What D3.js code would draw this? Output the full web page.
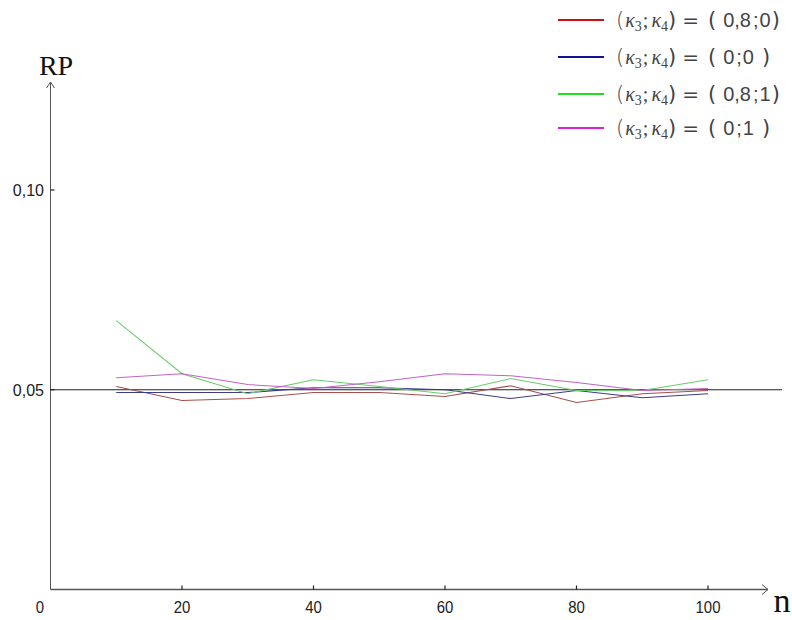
<!DOCTYPE html>
<html>
<head>
<meta charset="utf-8">
<script src="https://cdn.jsdelivr.net/npm/d3@7"></script>
<style>
  body { margin: 0; background: #fff; }
  svg text { font-family: "Liberation Sans", Arial, sans-serif; }
</style>
</head>
<body>
<div id="chart"></div>
<script>
const nValues = [10, 20, 30, 40, 50, 60, 70, 80, 90, 100];
const rp_08_0 = [0.0508, 0.0473, 0.0478, 0.0493, 0.0493, 0.0483, 0.0510, 0.0468, 0.0490, 0.0498];
const rp_0_0  = [0.0493, 0.0493, 0.0493, 0.0505, 0.0505, 0.0500, 0.0478, 0.0498, 0.0480, 0.0490];
const rp_08_1 = [0.0673, 0.0540, 0.0490, 0.0525, 0.0508, 0.0490, 0.0528, 0.0498, 0.0498, 0.0525];
const rp_0_1  = [0.0530, 0.0540, 0.0513, 0.0503, 0.0520, 0.0540, 0.0535, 0.0518, 0.0498, 0.0503];
const xTicks = [20, 40, 60, 80, 100];
const yTicks = [0.05, 0.10];
const nominal = 0.05;

const series = [
  { k3: "0,8", k4: "0", values: rp_08_0, line: "#a5504c", key: "#cc1111" },
  { k3: "0",   k4: "0", values: rp_0_0,  line: "#3c3c8c", key: "#11119a" },
  { k3: "0,8", k4: "1", values: rp_08_1, line: "#6ccc6c", key: "#22dd22" },
  { k3: "0",   k4: "1", values: rp_0_1,  line: "#c163c6", key: "#dd22dd" }
];

const width = 792, height = 620;
const svg = d3.select("#chart").append("svg")
    .attr("width", width).attr("height", height);

const x = d3.scaleLinear().domain([0, 100]).range([50.5, 708]);
const y = d3.scaleLinear().domain([0, 0.10]).range([589.5, 190]);

const axisColor = "#555";
const serif = "'Liberation Serif', 'Times New Roman', serif";

// axes with arrows
svg.append("line")
    .attr("x1", x(0)).attr("x2", 768)
    .attr("y1", y(0)).attr("y2", y(0))
    .attr("stroke", axisColor).attr("stroke-width", 1.3);
svg.append("path")
    .attr("d", `M762,${y(0) - 5} L768,${y(0)} L762,${y(0) + 5}`)
    .attr("fill", "none").attr("stroke", axisColor);
svg.append("line")
    .attr("x1", x(0)).attr("x2", x(0))
    .attr("y1", y(0)).attr("y2", 82)
    .attr("stroke", axisColor).attr("stroke-width", 1);
svg.append("path")
    .attr("d", `M${x(0) - 4},88 L${x(0)},82 L${x(0) + 4},88`)
    .attr("fill", "none").attr("stroke", axisColor);

// x ticks
svg.selectAll(".xtick").data(xTicks).enter().append("line")
    .attr("x1", d => x(d)).attr("x2", d => x(d))
    .attr("y1", y(0) - 4).attr("y2", y(0))
    .attr("stroke", "#222").attr("stroke-width", 1.2);
svg.selectAll(".xlab").data([0].concat(xTicks)).enter().append("text")
    .attr("x", d => d === 0 ? 40 : x(d))
    .attr("y", 613)
    .attr("text-anchor", "middle")
    .attr("font-size", 17)
    .attr("transform-origin", d => `${d === 0 ? 40 : x(d)}px 613px`)
    .attr("transform", "scale(0.88,1)")
    .attr("fill", "#222")
    .text(d => d);

// y ticks
svg.selectAll(".ytick").data(yTicks).enter().append("line")
    .attr("x1", x(0)).attr("x2", x(0) + 4)
    .attr("y1", d => y(d)).attr("y2", d => y(d))
    .attr("stroke", "#222").attr("stroke-width", 1.2);
svg.selectAll(".ylab").data(yTicks).enter().append("text")
    .attr("x", 44).attr("y", d => y(d) + 6)
    .attr("text-anchor", "end")
    .attr("font-size", 16)
    .attr("fill", "#222")
    .text(d => d3.format(".2f")(d).replace(".", ","));

// axis titles
svg.append("text")
    .attr("x", 56).attr("y", 75)
    .attr("text-anchor", "middle")
    .style("font-family", serif)
    .attr("font-size", 28)
    .attr("fill", "#111")
    .text("RP");
svg.append("text")
    .attr("x", 782).attr("y", 612)
    .attr("text-anchor", "middle")
    .style("font-family", serif)
    .attr("font-size", 34)
    .attr("fill", "#111")
    .text("n");

// nominal level line
svg.append("line")
    .attr("x1", x(0)).attr("x2", 782)
    .attr("y1", y(nominal)).attr("y2", y(nominal))
    .attr("stroke", "#222").attr("stroke-width", 1);

// series lines
const line = d3.line()
    .x((d, i) => x(nValues[i]))
    .y(d => y(d));

svg.selectAll(".series").data(series).enter().append("path")
    .attr("d", d => line(d.values))
    .attr("fill", "none")
    .attr("stroke", d => d.line)
    .attr("stroke-width", 1.1);

// legend
const legend = svg.selectAll(".legend").data(series).enter().append("g")
    .attr("transform", (d, i) => `translate(558,${[20, 57, 94, 128][i]})`);
legend.append("line")
    .attr("x1", 0).attr("x2", 46)
    .attr("stroke", d => d.key).attr("stroke-width", 2);
const lt = legend.append("text")
    .attr("x", 58).attr("y", 7)
    .attr("font-size", 20)
    .attr("fill", "#444");
lt.append("tspan").style("font-family", "'DejaVu Sans', sans-serif").attr("font-weight", 300).attr("font-size", 21).text("(");
lt.append("tspan").style("font-family", serif).attr("font-style", "italic").attr("dx", 1).text("κ");
lt.append("tspan").attr("font-size", 14).attr("dy", 4).style("font-family", serif).text("3");
lt.append("tspan").attr("dy", -4).attr("dx", 1).style("font-family", serif).text(";");
lt.append("tspan").style("font-family", serif).attr("font-style", "italic").attr("dx", 3).text("κ");
lt.append("tspan").attr("font-size", 14).attr("dy", 4).style("font-family", serif).text("4");
lt.append("tspan").attr("dy", -4).style("font-family", "'DejaVu Sans', sans-serif").attr("font-size", 21).text(")");
lt.append("tspan").style("font-family", "'DejaVu Sans', sans-serif").attr("dx", 6).text("=");
lt.append("tspan").style("font-family", "'DejaVu Sans', sans-serif").attr("font-size", 21).attr("dx", 9).text("(");
lt.append("tspan").attr("dx", 7).text(d => d.k3);
lt.append("tspan").attr("dx", 2).text(";");
lt.append("tspan").attr("dx", 1).text(d => d.k4);
lt.append("tspan").style("font-family", "'DejaVu Sans', sans-serif").attr("font-size", 21)
    .attr("dx", d => d.k3 === "0" ? 8 : 1).text(")");
</script>
</body>
</html>
